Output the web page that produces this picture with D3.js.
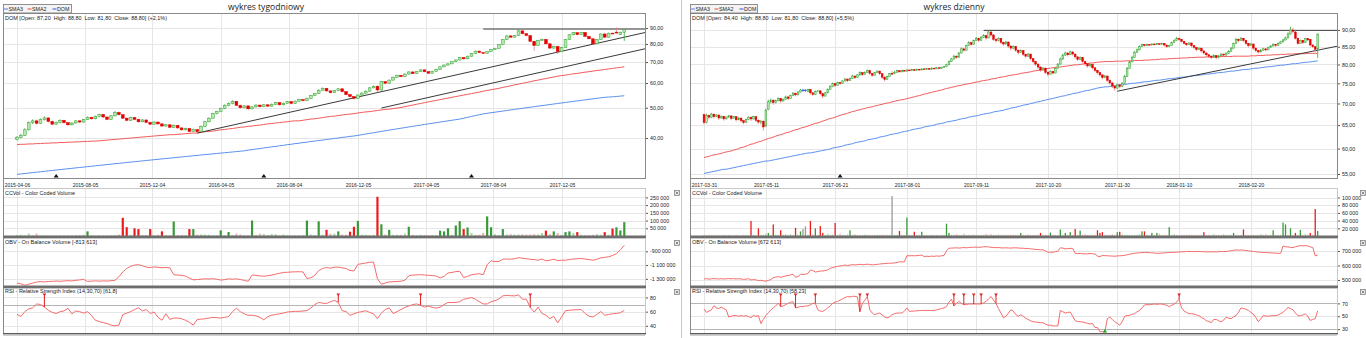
<!DOCTYPE html>
<html><head><meta charset="utf-8">
<script src="https://d3js.org/d3.v7.min.js"></script>
<style>
html,body{margin:0;padding:0;background:#fff;}
svg{display:block;}
text{font-family:"Liberation Sans",Arial,sans-serif;fill:#222;white-space:pre;}
</style></head><body>
<svg id="chart" width="1366" height="338"></svg>
<script>
// ---------------- weekly series (DOM) ----------------
const weeklyStart = "2015-04-06";
// [open, high, low, close]
const weeklyOHLC = [
[39.6,40.6,39.3,40.2],[40.2,41.3,39.9,40.8],[40.8,43.0,40.6,42.5],[42.5,45.2,42.3,44.8],[44.8,45.9,44.3,45.4],
[45.4,45.8,44.2,44.6],[44.6,46.2,44.4,45.9],[45.9,46.9,45.5,46.4],[46.4,46.6,44.9,45.2],[45.2,45.5,43.9,44.3],
[44.3,45.2,44.0,44.9],[44.9,45.9,44.6,45.6],[45.6,45.8,44.5,44.8],[44.8,45.0,43.8,44.1],[44.1,44.9,43.9,44.7],
[44.7,45.6,44.5,45.4],[45.4,45.6,44.7,45.0],[45.0,46.1,44.8,45.9],[45.9,46.9,45.7,46.6],[46.6,46.8,45.8,46.1],
[46.1,47.2,45.9,46.9],[46.9,47.9,46.6,47.6],[47.6,47.8,46.4,46.7],[46.7,46.9,45.6,45.9],[45.9,47.4,45.7,47.1],
[47.1,48.8,46.9,48.3],[48.3,48.6,47.2,47.5],[47.5,47.7,46.0,46.3],[46.3,46.6,45.3,45.6],[45.6,46.8,45.4,46.5],
[46.5,46.7,45.6,45.9],[45.9,46.1,44.8,45.1],[45.1,46.0,44.9,45.7],[45.7,45.9,44.6,44.9],[44.9,45.1,44.0,44.3],
[44.3,45.3,44.1,45.0],[45.0,45.2,44.1,44.4],[44.4,44.6,43.4,43.7],[43.7,44.4,43.5,44.1],[44.1,44.3,43.0,43.3],
[43.3,44.2,43.1,43.9],[43.9,44.1,42.8,43.1],[43.1,43.3,42.2,42.5],[42.5,43.2,42.3,42.9],[42.9,43.1,41.7,42.0],
[42.0,42.9,41.8,42.6],[42.6,42.8,41.5,41.9],[41.9,43.9,41.7,43.6],[43.6,45.4,43.4,45.1],[45.1,46.6,44.9,46.3],
[46.3,48.2,46.1,47.9],[47.9,48.9,47.6,48.6],[48.6,50.0,48.4,49.7],[49.7,51.3,49.5,50.9],[50.9,52.0,50.6,51.6],
[51.6,52.8,51.3,52.4],[52.4,52.6,50.6,50.9],[50.9,51.2,49.7,50.0],[50.0,51.0,49.8,50.7],[50.7,50.9,49.3,49.6],
[49.6,50.6,49.4,50.3],[50.3,51.3,50.1,51.0],[51.0,51.2,50.1,50.4],[50.4,51.4,50.2,51.1],[51.1,51.3,50.3,50.6],
[50.6,51.6,50.4,51.3],[51.3,52.2,51.1,51.9],[51.9,52.1,50.8,51.1],[51.1,52.0,50.9,51.7],[51.7,52.6,51.5,52.3],
[52.3,52.5,51.3,51.6],[51.6,52.8,51.4,52.5],[52.5,53.4,52.3,53.1],[53.1,53.3,52.4,52.7],[52.7,53.9,52.5,53.6],
[53.6,55.0,53.4,54.7],[54.7,55.8,54.5,55.5],[55.5,57.3,55.3,56.9],[56.9,58.1,56.7,57.7],[57.7,57.9,56.3,56.6],
[56.6,56.8,55.6,55.9],[55.9,57.0,55.7,56.7],[56.7,57.8,56.5,57.5],[57.5,57.7,56.0,56.3],[56.3,56.5,54.8,55.1],
[55.1,55.3,54.0,54.3],[54.3,54.5,53.2,53.6],[53.6,55.2,53.4,54.9],[54.9,56.0,54.7,55.7],[55.7,56.8,55.5,56.5],
[56.5,58.2,56.3,57.9],[57.9,58.9,57.7,58.6],[58.6,59.0,56.0,57.0],[57.0,60.9,56.8,60.6],[60.6,60.8,59.6,59.9],
[59.9,61.6,59.7,61.3],[61.3,62.9,61.1,62.6],[62.6,63.8,62.4,63.5],[63.5,63.7,62.6,62.9],[62.9,64.4,62.7,64.1],
[64.1,65.4,63.9,65.1],[65.1,65.3,64.0,64.3],[64.3,65.6,64.1,65.3],[65.3,66.4,65.1,66.1],[66.1,66.3,64.9,65.2],
[65.2,65.4,64.2,64.5],[64.5,65.7,64.3,65.4],[65.4,66.6,65.2,66.3],[66.3,67.9,66.1,67.6],[67.6,68.8,67.4,68.5],
[68.5,69.4,68.3,69.1],[69.1,70.6,68.9,70.3],[70.3,71.4,70.1,71.1],[71.1,72.7,70.9,72.4],[72.4,72.6,71.3,71.7],
[71.7,73.4,71.5,73.1],[73.1,74.9,72.9,74.6],[74.6,76.2,74.4,75.9],[75.9,76.1,74.8,75.1],[75.1,75.3,74.3,74.7],
[74.7,75.9,74.5,75.6],[75.6,77.2,75.4,76.9],[76.9,77.8,76.7,77.5],[77.5,80.0,77.3,79.7],[79.7,82.9,79.5,82.6],
[82.6,85.3,82.4,84.9],[84.9,85.2,83.6,84.1],[84.1,85.5,83.9,85.1],[85.1,88.8,84.9,88.1],[88.1,88.4,85.8,86.3],
[86.3,86.6,84.6,85.1],[85.1,85.4,81.2,81.6],[81.6,82.0,76.0,79.1],[79.1,82.4,78.8,82.1],[82.1,83.2,81.8,82.7],
[82.7,83.0,79.6,80.1],[80.1,80.4,77.2,77.6],[77.6,79.0,77.3,78.6],[78.6,78.9,74.3,75.6],[75.6,78.3,75.3,77.9],
[77.9,83.0,77.6,82.6],[82.6,86.0,82.4,85.6],[85.6,87.3,85.3,86.9],[86.9,87.2,85.3,85.7],[85.7,87.5,85.5,87.1],
[87.1,87.4,84.2,84.6],[84.6,84.9,82.7,83.1],[83.1,83.4,79.6,80.1],[80.1,83.0,79.8,82.6],[82.6,86.5,82.4,86.1],
[86.1,86.8,83.7,84.1],[84.1,87.0,83.9,86.6],[86.6,86.9,86.1,86.5],[87.3,90.4,86.4,86.7],[85.9,87.6,85.5,87.0],
[87.2,88.8,81.8,88.8]
];
// thousands of shares
const weeklyVolume = [
6,8,4,15,6,15,4,5,3,3, 4,3,3,4,3,5,6,8,30,4, 3,5,3,3,4,6,10,118,57,8,
50,45,6,5,45,4,8,30,5,4, 94,5,6,4,45,45,9,10,9,8, 4,5,37,4,26,6,15,10,5,4,
100,6,15,12,6,12,12,5,10,4, 3,4,3,5,100,10,6,95,8,40, 15,15,30,10,8,28,60,98,8,8,
5,8,254,76,10,40,8,8,8,15, 60,8,5,8,6,4,6,6,35,30, 50,8,68,96,45,55,20,8,8,20,
127,57,12,6,45,10,12,9,10,11, 9,10,12,10,20,35,12,30,20,8, 25,30,20,25,8,6,6,8,12,8,
25,8,48,56,36,90
];
// on-balance volume, thousands
const weeklyObv = [
-1364,-1372,-1393,-1378,-1362,-1347,-1340,-1345,-1338,-1336, -1332,-1335,-1331,-1327,-1330,-1322,-1316,-1308,-1338,-1333,
-1329,-1334,-1330,-1332,-1327,-1322,-1270,-1200,-1150,-1120, -1100,-1095,-1110,-1130,-1135,-1128,-1132,-1140,-1135,-1140,
-1240,-1245,-1250,-1260,-1290,-1315,-1310,-1305,-1300,-1302, -1298,-1305,-1318,-1312,-1300,-1305,-1300,-1310,-1322,-1335,
-1245,-1248,-1258,-1262,-1255,-1245,-1232,-1220,-1207,-1205, -1200,-1198,-1197,-1200,-1295,-1285,-1250,-1181,-1150,-1135,
-1145,-1132,-1130,-1140,-1150,-1178,-1185,-1090,-1080,-1070, -1060,-1056,-1300,-1379,-1360,-1345,-1342,-1338,-1335,-1320,
-1255,-1245,-1243,-1240,-1245,-1248,-1252,-1260,-1285,-1265, -1215,-1207,-1195,-1190,-1281,-1265,-1240,-1232,-1225,-1240,
-1095,-1038,-1050,-1048,-1015,-1012,-1015,-1008,-993,-1000, -1008,-1016,-1020,-1030,-1012,-1040,-1030,-1015,-1035,-1030,
-1030,-1020,-1012,-1008,-1004,-1012,-1020,-1030,-1015,-995, -988,-980,-960,-935,-878,-813.613
];
const weeklyRsi = [
56,53.4,60,64,65.4,70.9,70.2,66.5,62,59, 57.4,60,61,64.8,57,61,60,58,60,54.8,
47.9,46,44.5,43.3,41,40,41,55.7,58,60, 63,65.4,61,63,57.4,59.5,52,47.9,57,49,
51,51,50,47.9,45,41,49,49.5,50,51, 52,51.5,51,52,53,60,64.8,60,57,54.8,
55,54,52,48.5,53,55,56,57,58,59.5, 60,60.5,60.5,61,61.5,65,70,73,72,71.5,
74,75.9,73,61.4,60,54.8,57,59,60,61.4, 59,57,50.2,58,63,65.4,57.4,60,63,66,
68,70,70.9,69,66.5,67.8,66,65,66.5,70, 73,73,73,74,77.6,78.5,80,77.6,74,70.9,
70.9,74,75.5,78,82.3,83,82.5,82.3,83.7,77.6, 77.6,65.9,59.4,66.5,57.4,55,50.2,53.5,44.2,52.5,
61.4,62,62.5,62.8,63,57.4,53.7,52.5,56,60.2, 55,56,57,57.4,58.5,61.8
];
const weeklySma2 = [
38.1,38.2,38.2,38.3,38.3,38.4,38.4,38.5,38.5,38.6, 38.6,38.7,38.7,38.8,38.8,38.9,38.9,39.0,39.0,39.1,
39.1,39.2,39.3,39.4,39.5,39.6,39.7,39.8,39.9,40.0, 40.1,40.2,40.3,40.4,40.5,40.6,40.7,40.8,40.9,41.0,
41.0,41.1,41.2,41.3,41.4,41.5,41.5,41.7,41.9,42.0, 42.1,42.3,42.5,42.6,42.8,42.9,43.1,43.3,43.4,43.6,
43.7,43.9,44.0,44.2,44.4,44.5,44.7,44.8,45.0,45.1, 45.3,45.4,45.4,45.6,45.8,46.0,46.1,46.3,46.5,46.7,
46.9,47.0,47.2,47.4,47.6,47.7,47.9,48.1,48.3,48.5, 48.6,48.8,49.0,49.2,49.4,49.5,49.7,49.9,50.1,50.4,
50.7,51.0,51.3,51.6,51.9,52.2,52.5,52.8,53.1,53.4, 53.7,54.0,54.3,54.6,54.9,55.2,55.5,55.8,56.1,56.5,
56.8,57.1,57.4,57.7,58.1,58.4,58.8,59.2,59.5,59.9, 60.2,60.6,61.0,61.3,61.7,62.0,62.4,62.7,63.1,63.4,
63.6,63.9,64.2,64.4,64.7,65.0,65.2,65.5,65.8,66.0, 66.3,66.6,66.8,67.1,67.3,67.6
];
const weeklySma3 = [
30.6,30.7,30.8,30.9,31.0,31.1,31.2,31.3,31.4,31.5, 31.6,31.7,31.8,31.9,32.0,32.1,32.2,32.3,32.4,32.5,
32.6,32.7,32.8,32.9,33.0,33.1,33.2,33.3,33.4,33.5, 33.6,33.7,33.8,33.9,34.0,34.1,34.2,34.3,34.4,34.5,
34.6,34.7,34.8,34.9,35.0,35.1,35.2,35.3,35.4,35.5, 35.6,35.7,35.8,35.9,36.0,36.1,36.2,36.3,36.4,36.6,
36.7,36.9,37.0,37.2,37.3,37.5,37.6,37.8,37.9,38.1, 38.2,38.4,38.5,38.7,38.8,39.0,39.1,39.3,39.4,39.6,
39.7,39.9,40.0,40.2,40.3,40.5,40.6,40.8,41.0,41.2, 41.4,41.6,41.8,42.0,42.2,42.4,42.6,42.8,43.0,43.2,
43.4,43.6,43.8,44.0,44.2,44.4,44.6,44.8,45.0,45.2, 45.4,45.6,45.8,46.0,46.3,46.6,46.9,47.2,47.5,47.8,
48.0,48.2,48.4,48.6,48.8,49.0,49.2,49.4,49.6,49.8, 50.0,50.2,50.4,50.6,50.8,51.0,51.2,51.4,51.6,51.8,
52.0,52.2,52.4,52.6,52.8,53.0,53.2,53.4,53.6,53.8, 54.0,54.1,54.2,54.3,54.5,54.6
];
const weeklyTickDates = ["2015-04-06","2015-08-05","2015-12-04","2016-04-05","2016-08-04","2016-12-05","2017-04-05","2017-08-04","2017-12-05"];
const weeklyEventDates = ["2015-06-18","2016-06-22","2017-06-23"];
const weeklyRsiSignals = [7,82,103,131];
const weeklyBuySignals = [];
// drawn lines: [[barIndex, price], [barIndex, price]], extended to the right edge
const weeklyLines = [
  [[119,89.3],[155,89.3]],
  [[46,41.5],[155,84.1]],
  [[93,49.9],[155,74.6]]
];

// ---------------- daily series (DOM) ----------------
const dailyFirst = "2017-03-31", dailyLast = "2018-03-29";
const sessionHolidays = ["2017-04-14","2017-04-17","2017-05-01","2017-05-03","2017-06-15","2017-08-15","2017-11-01","2017-12-25","2017-12-26","2017-12-29","2018-01-01"];
const dailyOHLC = [
[67.4,67.6,65.1,65.6],[65.6,67.6,65.4,67.2],[67.2,67.4,66.3,66.8],[66.8,67.8,66.6,67.5],[67.5,67.6,66.5,66.9],
[66.9,67.5,66.8,67.3],[67.3,67.4,66.2,66.6],[66.6,67.2,66.5,67.0],[67.0,67.1,66.0,66.4],[66.4,67.0,66.3,66.8],
[66.8,67.3,66.7,67.1],[67.1,67.2,66.1,66.5],[66.5,67.0,66.4,66.9],[66.9,67.0,65.8,66.2],[66.2,66.8,66.1,66.6],
[66.6,66.7,65.6,66.0],[66.0,66.2,65.2,65.6],[65.6,66.5,65.5,66.3],[66.3,67.0,66.2,66.8],[66.8,66.9,65.9,66.4],
[66.4,67.1,66.3,66.9],[66.9,67.0,65.7,66.1],[66.1,66.3,65.3,65.7],[65.7,66.1,65.2,65.9],[65.9,66.0,63.8,64.6],
[64.8,68.8,64.7,68.4],[68.6,70.9,68.4,70.4],[70.4,71.2,70.0,70.8],[70.8,71.0,69.7,70.2],[70.2,70.9,70.0,70.7],
[70.7,71.5,70.5,71.2],[71.2,71.3,70.2,70.6],[70.6,71.2,70.5,71.0],[71.0,71.9,70.9,71.6],[71.6,71.7,70.8,71.2],
[71.2,72.1,71.1,71.9],[71.9,72.8,71.8,72.5],[72.5,72.6,71.7,72.1],[72.1,73.0,72.0,72.8],[72.8,73.6,72.7,73.3],
[73.3,73.6,72.9,73.3],[73.3,73.5,72.9,73.3],[72.9,73.6,72.8,73.4],[73.4,73.5,72.2,72.6],[72.6,72.8,71.8,72.2],
[72.2,73.2,72.1,72.9],[72.9,73.3,72.8,73.1],[73.1,73.2,72.0,72.4],[72.4,72.5,71.3,71.8],[71.8,72.8,71.7,72.6],
[72.6,73.7,72.5,73.5],[73.5,74.5,73.4,74.2],[74.2,75.2,74.0,74.9],[74.9,75.0,74.1,74.5],[74.5,75.4,74.4,75.2],
[75.2,75.3,74.6,75.0],[75.0,75.8,74.9,75.6],[75.6,76.4,75.5,76.1],[76.1,76.2,75.3,75.7],[75.7,76.5,75.6,76.3],
[76.3,77.2,76.2,76.9],[76.9,77.0,76.1,76.5],[76.5,77.4,76.4,77.2],[77.2,78.1,77.0,77.8],[77.8,77.9,76.9,77.3],
[77.3,78.1,77.2,77.9],[77.9,78.6,77.8,78.3],[78.3,78.4,77.2,77.6],[77.6,77.7,76.7,77.1],[77.1,78.0,77.0,77.8],
[77.8,78.4,77.7,78.2],[78.2,78.3,77.1,77.5],[77.5,77.6,76.1,76.6],[76.6,76.8,75.5,76.0],[76.0,77.0,75.9,76.8],
[76.8,77.7,76.7,77.5],[77.6,78.2,77.2,77.5],[77.5,78.3,77.4,77.8],[77.8,78.5,77.7,78.3],[78.3,78.4,77.9,78.0],
[78.0,78.6,77.9,78.4],[78.4,78.5,78.1,78.2],[78.2,78.7,78.1,78.5],[78.5,78.6,78.2,78.3],[78.3,78.8,78.2,78.6],
[78.6,78.7,78.3,78.4],[78.4,78.9,78.3,78.7],[78.7,78.8,78.4,78.5],[78.5,79.0,78.4,78.8],[78.8,78.9,78.5,78.6],
[78.6,79.1,78.5,78.9],[78.9,79.0,78.6,78.7],[78.7,79.2,78.6,79.0],[79.0,79.1,78.7,78.8],[78.8,79.3,78.7,79.1],
[79.1,79.2,78.8,78.9],[78.9,79.4,78.8,79.2],[79.2,79.6,79.1,79.4],[79.4,80.2,79.3,79.9],[79.9,81.1,79.8,80.8],
[80.8,81.8,80.7,81.5],[81.5,82.7,81.4,82.3],[82.3,82.5,81.6,82.0],[82.0,83.5,81.9,83.2],[83.2,84.8,83.1,84.4],
[84.4,84.6,83.6,84.0],[84.0,85.6,83.9,85.3],[85.3,86.6,85.2,86.2],[86.2,86.4,85.3,85.7],[85.7,87.1,85.6,86.8],
[86.8,87.9,86.7,87.5],[87.5,87.7,86.4,86.9],[86.9,88.2,86.8,87.8],[87.8,88.7,87.6,88.3],[88.3,88.5,87.1,87.6],
[87.6,90.0,87.5,89.4],[89.4,89.6,87.9,88.5],[88.5,88.7,86.7,87.2],[87.2,87.5,86.2,86.8],[86.8,87.8,86.6,87.5],
[87.5,87.6,85.8,86.3],[86.3,86.5,85.2,85.8],[85.8,86.7,85.6,86.4],[86.4,86.5,84.7,85.2],[85.2,85.4,84.0,84.6],
[84.6,85.4,84.4,85.1],[85.1,85.2,83.5,84.0],[84.0,84.2,82.8,83.4],[83.4,84.2,83.2,83.9],[83.9,84.0,82.3,82.8],
[82.8,83.0,81.8,82.3],[82.3,83.2,82.1,82.9],[82.9,83.0,81.1,81.6],[81.6,81.8,80.3,80.8],[80.8,81.0,79.6,80.1],
[80.1,80.3,78.8,79.3],[79.3,79.5,78.0,78.5],[78.5,79.3,78.3,79.0],[79.0,79.1,77.4,77.9],[77.9,78.1,76.8,77.4],
[77.4,78.4,77.2,78.1],[78.1,78.3,77.3,77.7],[77.7,79.2,77.6,78.9],[78.9,80.4,78.8,80.1],[80.1,81.9,80.0,81.5],
[81.5,83.0,81.3,82.6],[82.6,83.6,82.4,83.2],[83.2,83.4,82.2,82.7],[82.7,83.9,82.6,83.5],[83.5,83.7,82.5,82.9],
[82.9,83.0,81.6,82.1],[82.1,82.3,80.9,81.4],[81.4,82.2,81.2,81.9],[81.9,82.0,80.3,80.8],[80.8,81.0,79.7,80.2],
[80.2,80.4,79.1,79.6],[79.6,80.3,79.4,80.0],[80.0,80.1,78.6,79.1],[79.1,79.3,77.9,78.4],[78.4,78.6,77.3,77.8],
[77.8,78.0,76.7,77.2],[77.2,77.4,76.0,76.5],[76.5,77.2,76.3,76.9],[76.9,77.0,75.3,75.8],[75.8,76.0,74.6,75.1],
[75.1,75.3,73.8,74.3],[74.3,74.5,73.1,73.8],[73.8,74.9,73.6,74.6],[74.6,74.8,73.7,74.2],[74.2,75.3,74.1,75.0],
[75.0,77.2,74.9,76.8],[76.8,79.3,76.7,78.9],[78.9,81.1,78.8,80.7],[80.7,82.4,80.6,82.0],[82.0,83.8,81.9,83.4],
[83.4,84.5,83.3,84.1],[84.1,85.4,84.0,85.0],[85.0,85.9,84.9,85.6],[85.6,85.7,85.1,85.3],[85.3,85.9,85.2,85.7],
[85.7,85.8,85.4,85.5],[85.5,86.0,85.4,85.8],[85.8,85.9,85.5,85.6],[85.6,86.1,85.5,85.9],[85.9,86.0,85.6,85.7],
[85.7,86.2,85.6,86.0],[86.0,86.1,85.1,85.5],[85.5,85.6,84.6,85.0],[85.0,85.6,84.9,85.4],[85.4,86.5,85.3,86.2],
[86.2,87.2,86.1,86.9],[86.9,87.9,86.8,87.5],[87.5,87.7,86.8,87.2],[87.2,87.3,86.2,86.6],[86.6,86.7,85.6,86.0],
[86.0,86.2,85.2,85.6],[85.6,86.3,85.5,86.1],[86.1,86.2,84.8,85.3],[85.3,85.4,84.3,84.8],[84.8,85.0,83.7,84.2],
[84.2,84.8,84.0,84.6],[84.6,84.7,83.3,83.8],[83.8,84.0,82.7,83.2],[83.2,83.4,82.2,82.7],[82.7,82.9,81.8,82.3],
[82.3,82.5,81.5,82.0],[82.0,82.8,81.8,82.5],[82.5,82.6,81.4,81.9],[81.9,82.6,81.7,82.4],[82.4,83.2,82.3,82.9],
[82.9,83.0,82.2,82.6],[82.6,83.4,82.5,83.1],[83.1,84.0,83.0,83.7],[83.7,84.9,83.6,84.6],[84.6,86.2,84.5,85.9],
[85.9,87.6,85.8,87.2],[87.2,87.4,86.3,86.8],[86.8,87.9,86.7,87.5],[87.5,87.6,86.4,86.9],[86.9,87.0,85.5,86.0],
[86.0,86.1,84.8,85.3],[85.3,86.1,85.2,85.8],[85.8,85.9,84.1,84.6],[84.6,84.8,83.4,83.9],[83.9,84.1,83.0,83.5],
[83.5,84.3,83.4,84.0],[84.0,84.7,83.9,84.4],[84.4,84.5,83.7,84.1],[84.1,85.0,84.0,84.8],[84.8,85.5,84.7,85.2],
[85.2,86.0,85.1,85.7],[85.7,85.8,85.0,85.4],[85.4,86.3,85.3,86.0],[86.0,86.7,85.9,86.4],[86.4,87.3,86.3,87.0],
[87.0,88.0,86.9,87.6],[87.6,89.3,87.5,88.8],[88.8,91.0,88.6,90.0],[90.0,90.6,89.0,89.6],[89.4,89.8,87.1,87.5],
[87.5,87.7,85.6,86.0],[86.0,87.1,85.9,86.9],[86.9,87.0,85.8,86.2],[86.2,87.6,86.1,87.4],[87.4,87.6,86.6,87.0],
[87.2,87.3,85.1,85.5],[85.5,85.7,84.6,85.0],[85.0,85.1,83.4,84.2],[84.4,88.8,81.8,88.8]
];
const dailyVolume = [
3,2,3,2,3,2,2,2,3,2, 3,2,2,3,2,2,3,2,2,39, 3,2,20,3,4,6,8,3,30,4,
3,15,4,5,3,5,3,21,4,12, 18,25,3,39,4,20,3,26,8,3, 6,3,4,34,3,6,3,3,4,15,
3,5,3,3,3,4,3,3,2,3, 3,3,4,3,3,3,104,3,3,13, 3,3,48,3,3,11,3,3,11,3,
3,2,3,2,3,2,3,3,32,8, 3,3,5,3,3,6,3,3,3,4, 3,3,3,3,6,3,5,3,3,4,
3,3,3,3,3,3,3,3,8,3, 3,4,3,3,3,3,8,3,3,3, 9,3,3,3,17,3,8,3,10,3,
18,3,14,3,5,3,3,3,3,15, 8,10,3,3,3,5,3,10,11,5, 3,3,3,3,3,3,5,12,12,3,
3,8,3,8,6,3,3,3,23,3, 5,3,3,3,3,3,4,3,3,3, 3,3,10,3,3,3,5,3,3,3,
5,3,3,3,8,3,3,3,17,3, 3,3,3,3,3,5,3,5,3,3, 15,3,3,3,35,30,3,20,3,8,
3,16,3,5,3,8,3,70,13
];
const dailyObv = [
507,509,506,508,510,508,507,509,507,508, 510,508,509,507,509,507,504,506,509,500,
503,501,496,498,494,492,497,503,515,520, 523,519,524,528,531,535,540,519,523,539,
539,539,545,569,565,555,558,562,562,565, 569,581,585,590,594,597,600,603,600,603,
606,604,606,608,605,607,609,607,604,606, 608,610,612,613,615,616,616,618,620,626,
624,626,668,667,668,667,668,670,672,661, 664,662,665,663,666,664,667,669,701,719,
720,721,722,720,722,724,722,724,726,726, 727,725,727,729,730,728,726,724,723,724,
722,721,722,721,720,722,722,721,719,719, 717,718,715,713,711,710,708,709,700,691,
692,691,695,698,722,720,715,716,718,718, 684,682,683,681,680,681,682,681,680,665,
661,670,668,667,666,665,664,666,667,668, 670,674,678,681,684,686,688,689,690,690,
689,687,686,684,685,686,687,689,690,690, 691,692,693,694,695,696,697,696,696,696,
697,696,695,694,694,694,695,694,695,697, 696,697,699,702,705,707,706,707,706,704,
701,699,697,695,693,691,690,689,688,688, 686,685,684,684,734,730,728,725,723,730,
733,737,736,737,735,728,725,666,672.613
];
const dailyRsi = [
61.4,56,58,60,66.5,63,62,64,62,60, 48.7,50,51,51,50,51,50,51,49.5,48,
51,50,51,38.7,45,51,55.5,60,63,66, 70.5,65,66,68,70,72,72.5,63,64,65,
65,66,66,68,70,70,60,58,57.5,60, 63,66,70,72,73,75,77,79,80.6,80,
81,81,80,57,70,75,80.6,60,55,52.5, 54,55,52,49,47.5,49,52.5,54,55,55,
55,58,63,57.5,58,58,58.5,59,59,59, 59,59,59,59,60,61,62,63,65,72,
76.5,66,70,73,70,68,68,69,69,69, 69,69,69,71,73,77,80.6,75,70,62,
55,47.5,50,55,60,58,52.5,50,52.3,50, 47,45,43,41.5,41,40.5,40,40,38,36.1,
36.1,35,35,35,59,57,55,56,56.5,50, 43,42,41.5,41,40,39,38,39,32.5,32.5,
26,26,26,46.3,48.7,45,41.5,39,36.1,41.5, 50,51,51.5,53,54,57,59,63,67.6,68,
68,68.5,69,68.5,69,69,68,67,65,67, 69,72,76.5,63,58,56,54,54,53.5,52,
51,48,46.3,43,42,40,45,45,43,41.5, 44,48.7,47,46.3,49,51,56,63,62,61,
59,56,53.5,48,41.5,46,51,50.5,50,50.5, 51,51,52,54,56,60,63.5,62,60,55,
51,51,52,53.5,50,43.5,45,46.3,58.23
];
const dailySma2 = [
58.2,58.3,58.4,58.6,58.7,58.8,58.9,59.0,59.2,59.3,59.4,59.5,59.7,
59.8,60.0,60.2,60.3,60.5,60.7,60.9,61.0,61.2,61.4,61.5,61.7,61.9,62.1,62.2,62.4,62.6,62.8,62.9,63.1,63.3,63.4,63.6,63.8,64.0,64.1,64.3,
64.5,64.6,64.8,65.0,65.2,65.4,65.5,65.7,65.9,66.1,66.3,66.5,66.6,66.8,67.0,67.2,67.4,67.5,67.7,67.9,68.1,68.2,68.4,68.5,
68.7,68.8,69.0,69.1,69.2,69.4,69.5,69.7,69.8,70.0,70.1,70.2,70.4,70.5,70.7,70.8,70.9,
71.0,71.2,71.3,71.5,71.6,71.8,71.9,72.1,72.3,72.4,72.6,72.7,72.9,73.0,73.2,73.3,73.5,73.7,73.8,74.0,
74.1,74.3,74.4,74.5,74.7,74.8,74.9,75.0,75.2,75.3,75.4,75.6,75.7,75.8,75.9,76.1,76.2,76.3,76.5,76.6,
76.7,76.8,77.0,77.1,77.2,77.3,77.4,77.6,77.7,77.8,77.9,78.0,78.2,78.3,78.4,78.5,78.6,78.8,78.9,79.0,
79.1,79.2,79.3,79.3,79.4,79.5,79.6,79.7,79.8,79.9,79.9,80.0,80.1,80.2,80.3,80.4,80.4,80.5,80.6,80.7,
80.7,80.8,80.8,80.8,80.8,80.9,80.9,80.9,80.9,81.0,81.0,81.0,81.0,81.1,81.1,81.1,81.1,81.2,81.2,81.2,
81.3,81.3,81.4,81.4,81.5,81.5,81.5,81.6,81.6,81.7,81.7,81.7,81.8,81.8,81.8,81.9,81.9,81.9,82.0,82.0,
82.0,82.0,82.1,82.1,82.1,82.1,82.1,82.2,82.2,82.2,82.2,82.2,82.2,82.3,82.3,82.3,82.3,82.3,82.3,82.3,
82.4,82.4,82.4,82.5,82.5,82.5,82.6,82.6,82.6,82.7,82.7,82.7,82.8,82.8,82.8,82.9,82.9,82.9,83.0,83.0,
83.0,83.0,83.0,83.1,83.1,83.1,83.1,83.1
];
const dailySma3 = [
55.1,55.2,55.3,55.4,55.5,55.6,55.7,55.8,55.9,55.9,56.0,56.1,56.2,56.3,56.4,56.5,56.6,56.7,56.8,56.9,
57.0,57.1,57.2,57.3,57.4,57.5,57.5,57.6,57.7,57.8,57.9,58.0,58.1,58.2,58.3,58.4,58.5,58.6,58.7,58.8,
58.9,59.0,59.1,59.1,59.2,59.3,59.4,59.5,59.6,59.7,
59.8,59.9,60.1,60.2,60.3,60.4,60.5,60.7,60.8,60.9,61.0,61.2,61.3,61.4,61.5,61.6,61.8,61.9,62.0,62.1,
62.2,62.4,62.5,62.6,62.7,62.9,63.0,63.1,63.2,63.3,63.5,63.6,63.7,63.8,64.0,64.1,64.2,64.3,64.4,64.6,
64.7,64.8,64.9,65.0,65.2,65.3,65.4,65.5,65.7,65.8,65.9,66.0,66.1,66.3,66.4,66.5,66.6,66.8,66.9,67.0,
67.1,67.2,67.4,67.5,67.6,67.7,67.8,68.0,68.1,68.2,68.3,
68.4,68.6,68.7,68.9,69.0,69.1,69.3,69.4,69.6,69.7,69.8,70.0,70.1,70.3,70.4,70.5,70.7,70.8,71.0,71.1,
71.2,71.4,71.5,71.7,71.8,71.9,72.1,72.2,72.4,72.5,72.6,72.8,72.9,73.1,73.2,73.3,73.5,73.6,73.8,73.9,
74.0,74.1,74.1,74.2,74.3,74.4,74.5,74.6,74.6,74.7,74.8,74.9,75.0,75.0,75.1,75.2,75.3,75.4,75.4,75.5,
75.6,75.7,75.8,75.8,75.9,76.0,76.1,76.2,76.2,76.3,76.4,76.5,76.6,76.6,76.7,76.8,76.9,77.0,77.0,77.1,
77.2,77.3,77.4,77.4,77.5,77.6,77.7,77.8,77.8,77.9,78.0,78.1,78.2,78.2,78.3,78.4,78.5,78.6,78.6,78.7,
78.8,78.9,79.0,79.0,79.1,79.2,79.3,79.4,79.4,79.5,79.6,79.7,79.8,79.8,79.9,80.0,80.1,80.2,80.2,80.3,
80.4,80.5,80.6,80.6,80.7,80.8,80.9,81.0
];
const dailyTickDates = ["2017-03-31","2017-05-11","2017-06-21","2017-08-01","2017-09-11","2017-10-20","2017-11-30","2018-01-10","2018-02-20"];
const dailyEventDates = ["2017-06-23"];
const dailyRsiSignals = [31,37,45,63,66,101,105,109,112,118,192];
const dailyBuySignals = [162];
const dailyLines = [
  [[113,89.9],[248,89.9]],
  [[167,73.0],[248,84.0]]
];

// ---------------- helpers ----------------
const parse = d3.timeParse("%Y-%m-%d");
const loc = d3.formatLocale({decimal: ",", thousands: " ", grouping: [3], currency: ["", ""], minus: "-"});
const fPrice = loc.format(",.2f");
const fInt = loc.format(",.0f");
const fRsi = loc.format(".2~f");
const fPct = loc.format("+.1f");

const svg = d3.select("#chart");

const C = {
  frame: "#8a8a8a", grid: "#e6e6e6", sep: "#6e6e6e",
  up: "#36a336", upFill: "#b4e8ae", down: "#e40000", flat: "#3f5fe0",
  sma2: "#f25a5a", sma3: "#5a90ef", ind: "#f56b6b", line: "#3a3a3a",
  volUp: "#3a9a3a", volUpPale: "#a9dca6", volDown: "#ee1b1b", volDownPale: "#f5b3b3", volFlat: "#9a9a9a"
};

function drawPanel(S) {
  const L = S.L;
  const g = svg.append("g");
  const n = S.ohlc.length;
  const x = S.x;

  const yP = d3.scaleLog().domain(S.priceDomain).range([L.main[1], L.main[0]]);
  const yV = d3.scaleLinear().domain([0, S.volMax]).range([L.vol[1], L.vol[0]]);
  const yO = d3.scaleLinear().domain(S.obvDomain).range([L.obv[1], L.obv[0]]);
  const yR = d3.scaleLinear().domain(S.rsiDomain).range([L.rsi[1], L.rsi[0]]);

  const panes = [L.main, L.vol, L.obv, L.rsi];

  // vertical grid through every pane
  S.ticks.forEach(t => {
    panes.forEach(p => {
      g.append("line").attr("x1", t.x).attr("x2", t.x).attr("y1", p[0]).attr("y2", p[1])
        .attr("stroke", C.grid).attr("shape-rendering", "crispEdges");
    });
  });

  // horizontal grid + right-side axes
  function hAxis(scale, values, fmt) {
    const ax = d3.axisRight(scale).tickValues(values).tickFormat(fmt).tickSize(3).tickPadding(2);
    const a = g.append("g").attr("transform", `translate(${L.plotR},0)`).call(ax);
    a.select(".domain").remove();
    a.selectAll(".tick line").attr("stroke", "#555");
    a.selectAll(".tick text").attr("font-size", 5.3).attr("fill", "#222")
      .attr("font-family", "Liberation Sans, Arial, sans-serif");
    values.forEach(v => {
      g.append("line").attr("x1", L.plotL).attr("x2", L.plotR).attr("y1", Math.round(scale(v)) + 0.5).attr("y2", Math.round(scale(v)) + 0.5)
        .attr("stroke", C.grid);
    });
  }
  hAxis(yP, S.priceTicks, fPrice);
  hAxis(yV, S.volTicks, v => fInt(v * 1000));
  hAxis(yO, S.obvTicks, v => fInt(v * 1000));
  hAxis(yR, S.rsiTicks, d3.format("d"));
  S.rsiBands.forEach(v => {
    g.append("line").attr("x1", L.plotL).attr("x2", L.plotR).attr("y1", Math.round(yR(v)) + 0.5).attr("y2", Math.round(yR(v)) + 0.5)
      .attr("stroke", "#b5b5b5");
  });

  // date labels
  g.selectAll(".dl").data(S.ticks).join("text")
    .attr("x", d => d.x).attr("y", L.main[1] + 8.5).attr("text-anchor", "middle")
    .attr("font-size", 5).text(d => d.label);

  // clip to main pane
  const clipId = "clip" + L.plotL;
  svg.append("clipPath").attr("id", clipId).append("rect")
    .attr("x", L.plotL).attr("y", L.main[0]).attr("width", L.plotR - L.plotL).attr("height", L.main[1] - L.main[0]);
  const gm = g.append("g").attr("clip-path", `url(#${clipId})`);

  // moving averages
  const lineOf = (arr, ys) => d3.line().x((d, i) => x(i)).y(d => ys(d))(arr);
  gm.append("path").attr("d", lineOf(S.sma3, yP)).attr("fill", "none").attr("stroke", C.sma3).attr("stroke-width", 1);
  gm.append("path").attr("d", lineOf(S.sma2, yP)).attr("fill", "none").attr("stroke", C.sma2).attr("stroke-width", 1);

  // drawn trend lines, extended to the right edge
  S.lines.forEach(([p0, p1]) => {
    const x0 = x(p0[0]), y0 = yP(p0[1]), x1 = x(p1[0]), y1 = yP(p1[1]);
    const k = (y1 - y0) / (x1 - x0);
    gm.append("line").attr("x1", x0).attr("y1", y0).attr("x2", L.plotR).attr("y2", y0 + k * (L.plotR - x0))
      .attr("stroke", C.line).attr("stroke-width", 1);
  });

  // candles
  const bw = S.bodyW;
  const dir = d => d[3] > d[0] ? 1 : d[3] < d[0] ? -1 : 0;
  gm.selectAll(".wick").data(S.ohlc).join("line")
    .attr("x1", (d, i) => x(i)).attr("x2", (d, i) => x(i))
    .attr("y1", d => yP(d[1])).attr("y2", d => yP(d[2]))
    .attr("stroke", d => dir(d) > 0 ? C.up : dir(d) < 0 ? "#f08080" : C.flat).attr("stroke-width", 0.8);
  gm.selectAll(".body").data(S.ohlc).join("rect")
    .attr("x", (d, i) => x(i) - bw / 2).attr("width", bw)
    .attr("y", d => yP(Math.max(d[0], d[3])))
    .attr("height", d => Math.max(0.8, Math.abs(yP(d[0]) - yP(d[3]))))
    .attr("fill", d => dir(d) > 0 ? C.upFill : dir(d) < 0 ? C.down : C.flat)
    .attr("stroke", d => dir(d) > 0 ? C.up : dir(d) < 0 ? C.down : C.flat).attr("stroke-width", 0.5);

  // event markers on the time axis
  g.selectAll(".ev").data(S.events).join("path")
    .attr("d", d => `M${x(d) - 2.5},${L.main[1] - 0.5} L${x(d)},${L.main[1] - 4} L${x(d) + 2.5},${L.main[1] - 0.5} Z`)
    .attr("fill", "#111");

  // volume
  const avgVol = d3.mean(S.vol);
  g.selectAll(".vb").data(S.vol).join("rect")
    .attr("x", (d, i) => x(i) - S.volW / 2).attr("width", S.volW)
    .attr("y", d => yV(d)).attr("height", d => yV(0) - yV(d))
    .attr("fill", (d, i) => {
      const c = S.ohlc[i][3], pc = i > 0 ? S.ohlc[i - 1][3] : S.ohlc[i][0];
      const strong = d >= avgVol;
      if (c > pc) return strong ? C.volUp : C.volUpPale;
      if (c < pc) return strong ? C.volDown : C.volDownPale;
      return C.volFlat;
    });

  // OBV
  g.append("path").attr("d", lineOf(S.obv, yO)).attr("fill", "none").attr("stroke", C.ind).attr("stroke-width", 1);
  // RSI
  g.append("path").attr("d", lineOf(S.rsi, yR)).attr("fill", "none").attr("stroke", C.ind).attr("stroke-width", 1);
  // RSI signal pins
  const pinTop = L.rsi[0] + 7.5;
  S.sell.forEach(i => {
    g.append("line").attr("x1", x(i)).attr("x2", x(i)).attr("y1", yR(S.rsi[i])).attr("y2", pinTop).attr("stroke", "#e02020");
    g.append("path").attr("d", `M${x(i) - 1.8},${pinTop - 2} L${x(i) + 1.8},${pinTop - 2} L${x(i)},${pinTop + 1} Z`).attr("fill", "#e02020");
  });
  S.buy.forEach(i => {
    const b = L.rsi[1] - 0.5;
    g.append("line").attr("x1", x(i)).attr("x2", x(i)).attr("y1", yR(S.rsi[i])).attr("y2", b).attr("stroke", "#22aa22");
    g.append("path").attr("d", `M${x(i) - 2.2},${b} L${x(i) + 2.2},${b} L${x(i)},${b - 3.5} Z`).attr("fill", "#22aa22");
  });

  // frames
  const fr = (p, col) => {
    g.append("rect").attr("x", L.plotL + 0.5).attr("y", p[0] + 0.5).attr("width", L.plotR - L.plotL).attr("height", p[1] - p[0])
      .attr("fill", "none").attr("stroke", col).attr("shape-rendering", "crispEdges");
  };
  fr(L.main, C.frame); fr(L.vol, "#c8c8c8"); fr(L.obv, "#c8c8c8"); fr(L.rsi, "#c8c8c8");
  g.append("line").attr("x1", L.plotL).attr("x2", L.plotL).attr("y1", L.main[0]).attr("y2", L.rsi[1]).attr("stroke", C.frame).attr("shape-rendering", "crispEdges").attr("transform", "translate(0.5,0)");
  [L.vol[1] + 1, L.obv[1] + 1].forEach(yy => {
    g.append("rect").attr("x", L.plotL).attr("y", yy - 1.5).attr("width", L.plotR - L.plotL + 1).attr("height", 2.5).attr("fill", C.sep);
  });
  g.append("rect").attr("x", L.plotL).attr("y", L.rsi[1]).attr("width", L.plotR - L.plotL + 1).attr("height", 1.4).attr("fill", "#5a5a5a");
  g.append("line").attr("x1", L.plotL).attr("x2", L.plotR).attr("y1", L.rsi[1] + 2.5).attr("y2", L.rsi[1] + 2.5).attr("stroke", "#d0d0d0");

  // close buttons beside the indicator panes
  [L.vol[0] + 2, L.obv[0] + 2, L.rsi[0] + 1].forEach(yy => {
    const bx = L.btnX;
    g.append("rect").attr("x", bx + 0.5).attr("y", yy + 0.5).attr("width", 5).attr("height", 5).attr("fill", "#eee").attr("stroke", "#777").attr("stroke-width", 0.7);
    g.append("path").attr("d", `M${bx + 1.7},${yy + 1.7} L${bx + 4.3},${yy + 4.3} M${bx + 4.3},${yy + 1.7} L${bx + 1.7},${yy + 4.3}`).attr("stroke", "#444").attr("stroke-width", 0.6);
  });

  // pane captions
  const cap = (txt, yy, w) => g.append("text").attr("x", L.plotL + 2).attr("y", yy).attr("font-size", 5.4)
    .attr("textLength", w).attr("lengthAdjust", "spacingAndGlyphs").text(txt);
  const last = S.ohlc[n - 1], prevClose = S.ohlc[n - 2][3];
  const pct = (last[3] / prevClose - 1) * 100;
  cap(`DOM [Open: ${fPrice(last[0])}  High: ${fPrice(last[1])}  Low: ${fPrice(last[2])}  Close: ${fPrice(last[3])}] (${fPct(pct)}%)`, L.main[0] + 6.5, 162);
  cap("CCVol - Color Coded Volume", L.vol[0] + 6.5, 70);
  cap(`OBV - On Balance Volume [${fInt(S.obv[n - 1] * 1000)}]`, L.obv[0] + 5.5, S.obvCapW);
  cap(`RSI - Relative Strength Index (14,30,70) [${fRsi(S.rsi[n - 1])}]`, L.rsi[0] + 4.5, S.rsiCapW);

  // legend box and title
  const lg = g.append("g");
  lg.append("rect").attr("x", L.plotL + 0.5).attr("y", 4.5).attr("width", S.legendW).attr("height", 8.5)
    .attr("fill", "#f4f4f4").attr("stroke", "#777").attr("stroke-width", 0.8);
  [["SMA3", "#4f86ee", 1], ["SMA2", "#f04848", 24.5], ["DOM", "#3a4fe6", 49.5]].forEach(([t, c, dx]) => {
    lg.append("line").attr("x1", L.plotL + dx).attr("x2", L.plotL + dx + 4).attr("y1", 9).attr("y2", 9).attr("stroke", c);
    lg.append("text").attr("x", L.plotL + dx + 4.5).attr("y", 10.7).attr("font-size", 5.3).attr("fill", c).text(t);
  });
  g.append("text").attr("x", S.titleX).attr("y", 10).attr("text-anchor", "middle")
    .attr("font-size", 9).attr("fill", "#333")
    .attr("textLength", S.titleW).attr("lengthAdjust", "spacingAndGlyphs").style("font-family", "Open Sans, sans-serif").text(S.title);
}

// ---------------- weekly panel ----------------
const wStart = parse(weeklyStart);
const wDates = weeklyOHLC.map((d, i) => d3.timeDay.offset(wStart, 7 * i));
const wTime = d3.scaleTime().domain([parse("2015-03-12"), parse("2018-05-02")]).range([3, 645]);
const weekIndexOf = t => Math.round((t - wStart) / (7 * 864e5));
drawPanel({
  L: {plotL: 3, plotR: 645, main: [13, 178], vol: [188, 236], obv: [238, 286], rsi: [288, 333], btnX: 674},
  ohlc: weeklyOHLC, vol: weeklyVolume, obv: weeklyObv, rsi: weeklyRsi, sma2: weeklySma2, sma3: weeklySma3,
  x: i => wTime(d3.timeDay.offset(wStart, 7 * i)),
  ticks: weeklyTickDates.map(s => ({x: Math.round(wTime(parse(s))) + 0.5, label: s})),
  events: weeklyEventDates.map(s => weekIndexOf(parse(s))),
  priceDomain: [29.8, 100.5], priceTicks: [40, 50, 60, 70, 80, 90],
  volMax: 311, volTicks: [50, 100, 150, 200, 250],
  obvDomain: [-1404, -707], obvTicks: [-1300, -1100, -900],
  rsiDomain: [29.9, 93.4], rsiTicks: [40, 60, 80], rsiBands: [70, 30],
  sell: weeklyRsiSignals, buy: weeklyBuySignals, lines: weeklyLines,
  bodyW: 2.8, volW: 2.2, obvCapW: 92, rsiCapW: 112, legendW: 68,
  title: "wykres tygodniowy", titleX: 266, titleW: 76
});

// ---------------- daily panel ----------------
const holidaySet = new Set(sessionHolidays);
const fmtDay = d3.timeFormat("%Y-%m-%d");
const sessions = d3.timeDay.range(parse(dailyFirst), d3.timeDay.offset(parse(dailyLast), 1))
  .filter(d => d.getDay() !== 0 && d.getDay() !== 6 && !holidaySet.has(fmtDay(d))).map(fmtDay);
const dIdx = d3.scaleLinear().domain([-5.65, 255.8]).range([690, 1337]);
drawPanel({
  L: {plotL: 690, plotR: 1337, main: [13, 178], vol: [188, 236], obv: [238, 286], rsi: [288, 333], btnX: 1360},
  ohlc: dailyOHLC, vol: dailyVolume, obv: dailyObv, rsi: dailyRsi, sma2: dailySma2, sma3: dailySma3,
  x: i => dIdx(i),
  ticks: dailyTickDates.map(s => ({x: Math.round(dIdx(sessions.indexOf(s))) + 0.5, label: s})),
  events: dailyEventDates.map(s => sessions.indexOf(s)),
  priceDomain: [54.25, 95.4], priceTicks: [55, 60, 65, 70, 75, 80, 85, 90],
  volMax: 124.7, volTicks: [20, 40, 60, 80, 100],
  obvDomain: [458.6, 789.7], obvTicks: [500, 600, 700],
  rsiDomain: [24, 93.9], rsiTicks: [30, 50, 70], rsiBands: [70, 30],
  sell: dailyRsiSignals, buy: dailyBuySignals, lines: dailyLines,
  bodyW: 1.7, volW: 1.3, obvCapW: 89, rsiCapW: 114, legendW: 67,
  title: "wykres dzienny", titleX: 954, titleW: 61
});

// divider between the two charts
svg.append("line").attr("x1", 681.5).attr("x2", 681.5).attr("y1", 0).attr("y2", 338).attr("stroke", "#c8c8c8");
</script>
</body></html>
